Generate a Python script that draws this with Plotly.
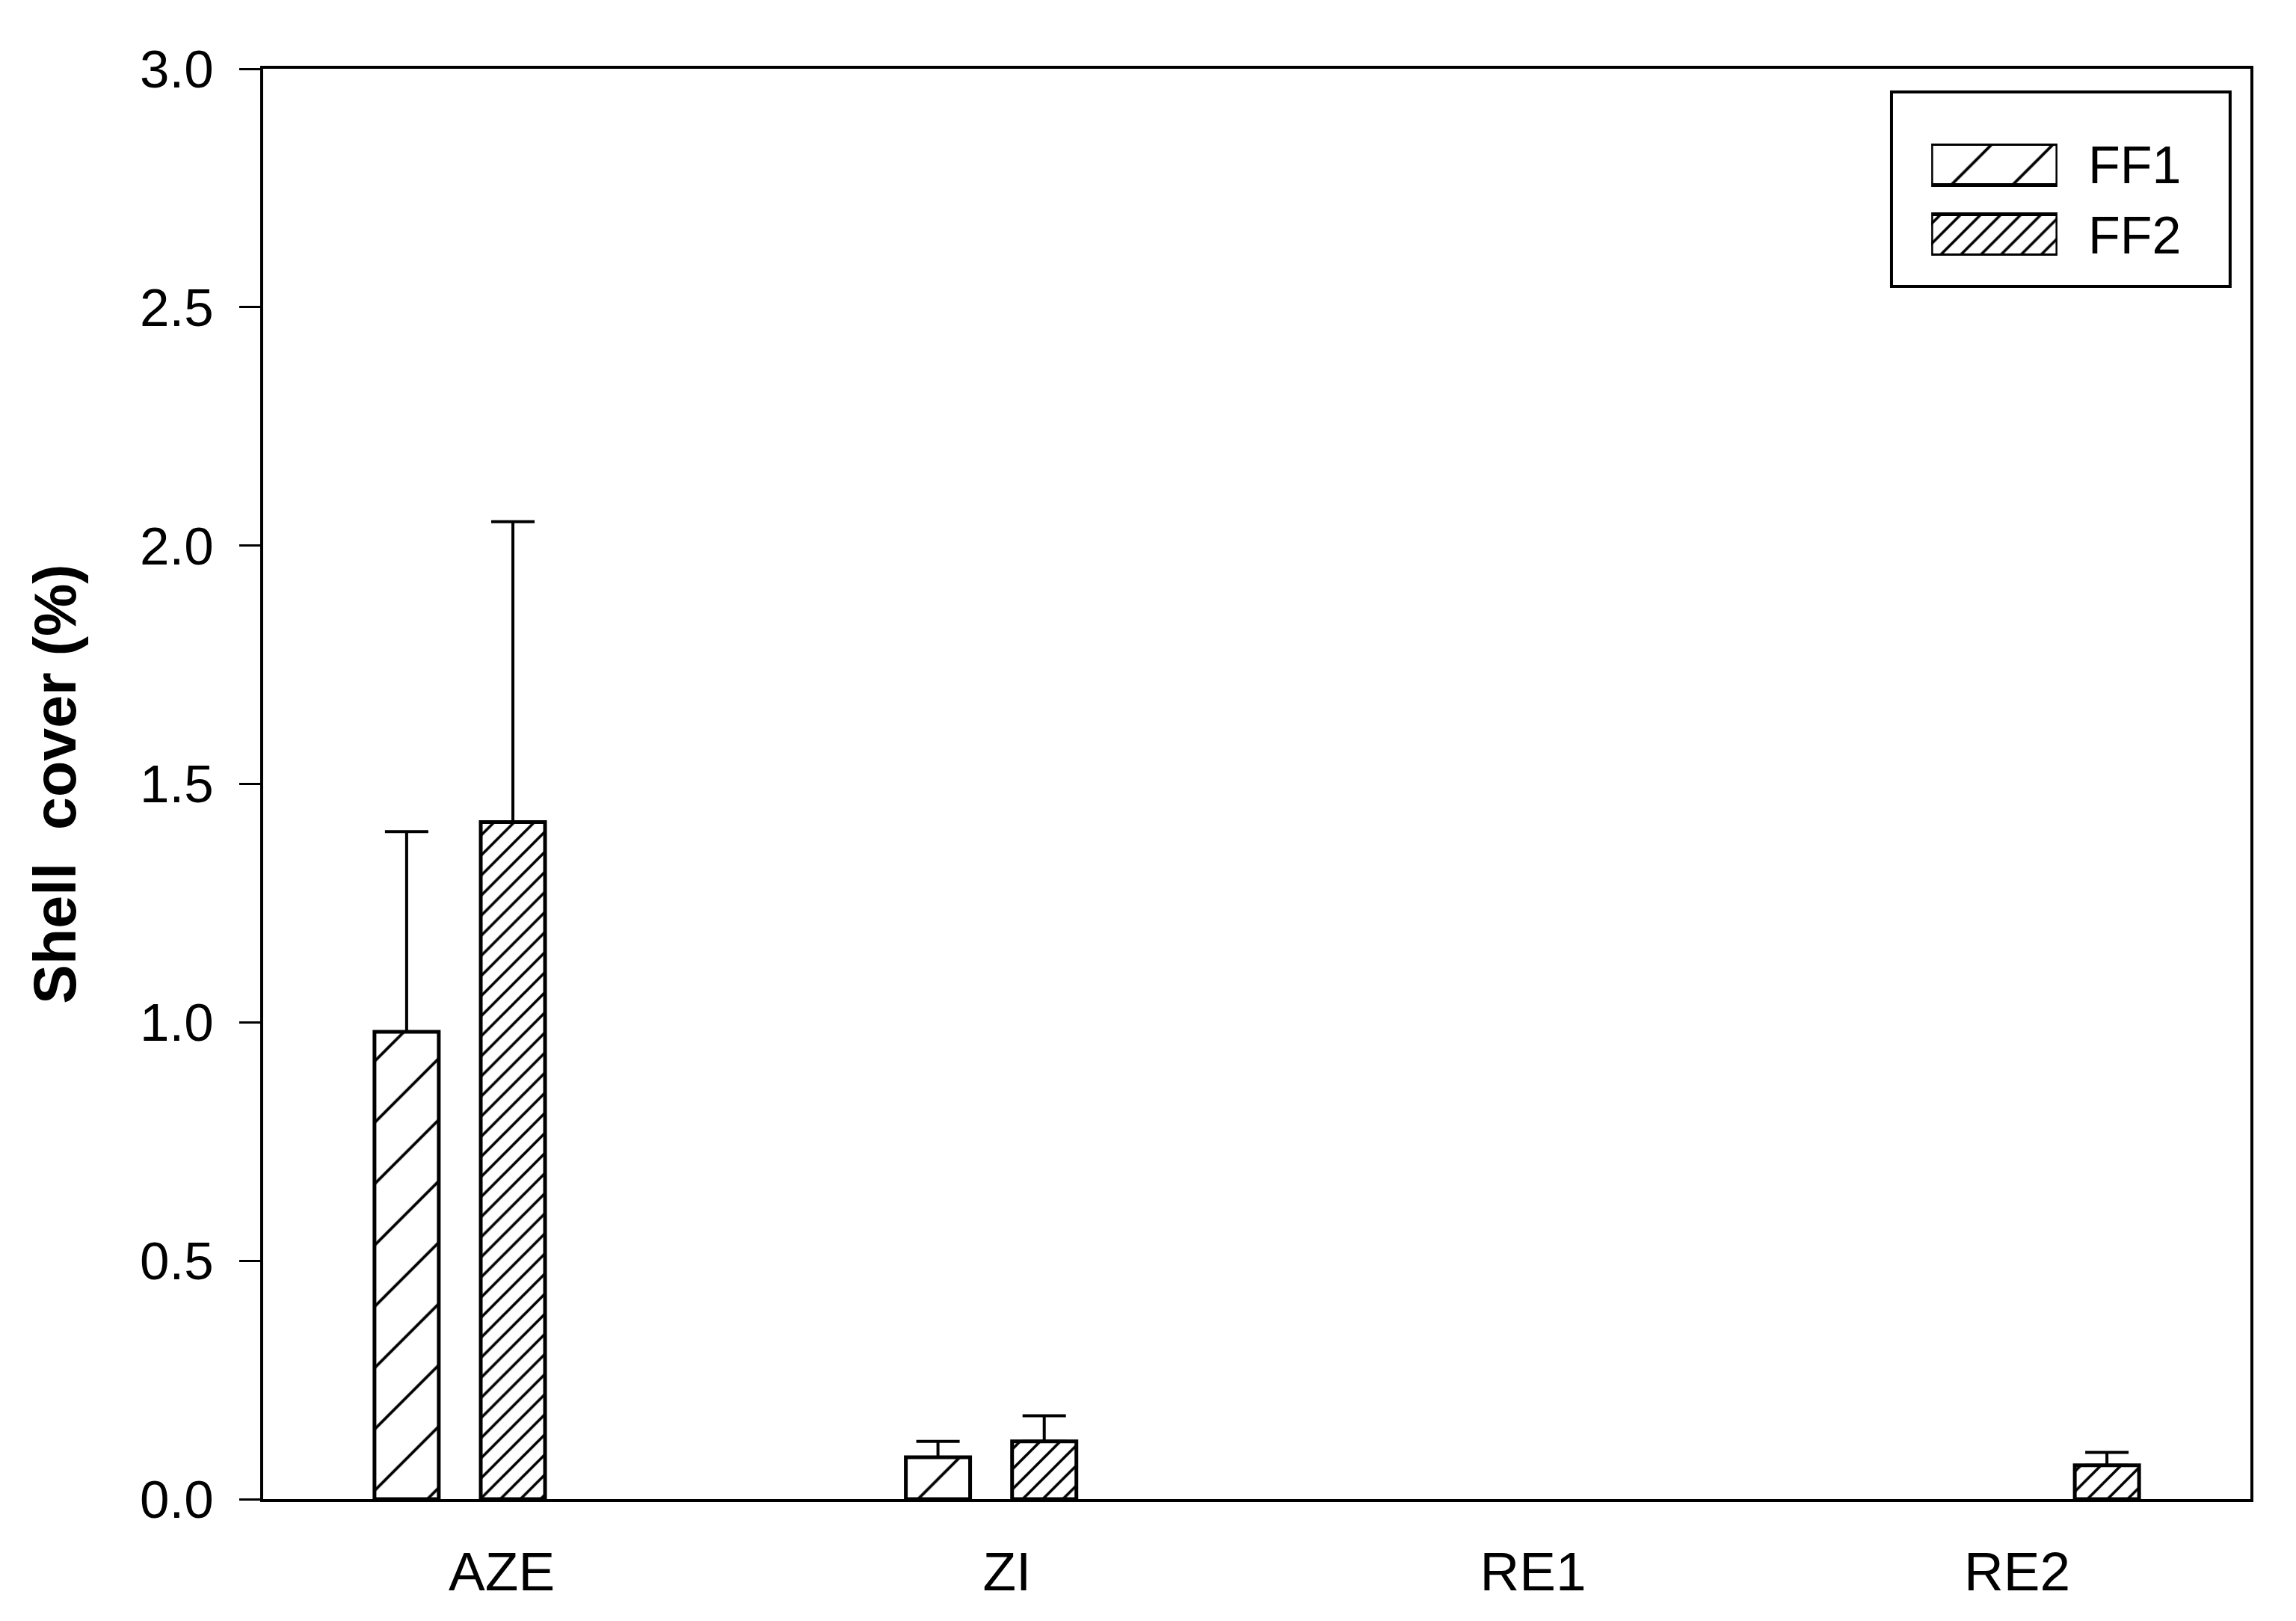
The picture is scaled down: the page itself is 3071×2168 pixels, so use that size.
import plotly.graph_objects as go

# Sites on the x axis.
sites = ["AZE", "ZI", "RE1", "RE2"]

# Series names, mean shell cover (%) and upper error (%).
series = ["FF1", "FF2"]
ff1_mean = [0.98, 0.088, 0.0, 0.0]
ff1_err = [0.42, 0.033, None, None]
ff2_mean = [1.42, 0.121, 0.0, 0.071]
ff2_err = [0.63, 0.054, None, 0.027]

y_ticks = [0.0, 0.5, 1.0, 1.5, 2.0, 2.5, 3.0]

FONT = "Liberation Sans, Arial, sans-serif"
idx = list(range(len(sites)))

bar_w = 0.121
# Hatch style per series: (pattern size, solidity, group offset).
style = {
    "FF1": dict(size=58, solidity=0.065, shift=-0.10),
    "FF2": dict(size=19, solidity=0.19, shift=0.10),
}


def hatch(name):
    st = style[name]
    return dict(shape="/", size=st["size"], solidity=st["solidity"],
                fgcolor="black", fgopacity=1, bgcolor="white", fillmode="overlay")


fig = go.Figure()

for name, mean, err in [("FF1", ff1_mean, ff1_err), ("FF2", ff2_mean, ff2_err)]:
    st = style[name]
    # Zero cover draws no bar and no error bar.
    y = [v if v > 0 else None for v in mean]
    fig.add_trace(go.Bar(
        x=idx, y=y, name=name, showlegend=False,
        width=bar_w, offset=st["shift"] - bar_w / 2,
        marker=dict(color="white", line=dict(color="black", width=5), pattern=hatch(name)),
        error_y=dict(type="data", array=err, arrayminus=[0] * len(err), symmetric=False,
                     color="black", thickness=4, width=29),
    ))

# Legend key drawn as small hatched bars on their own axes.
for name in series:
    fig.add_trace(go.Bar(
        x=[1], y=[name], orientation="h", base=0, width=0.585,
        xaxis="x2", yaxis="y2", showlegend=False, hoverinfo="skip",
        marker=dict(color="white", line=dict(color="black", width=5), pattern=hatch(name)),
    ))

label_shift = [0.079, 0.03, 0.02, -0.069]

fig.update_layout(
    width=3071, height=2168,
    margin=dict(l=352, r=61, t=92, b=163),
    plot_bgcolor="white", paper_bgcolor="white",
    barmode="overlay",
    font=dict(family=FONT, size=72, color="black"),
    xaxis=dict(
        range=[-0.37, 3.37],
        tickvals=[i + s for i, s in zip(idx, label_shift)],
        ticktext=sites,
        ticks="outside", ticklen=30, tickcolor="rgba(0,0,0,0)",
        showline=True, linecolor="black", linewidth=4, mirror=True,
        showgrid=False, zeroline=False,
        tickfont=dict(size=73),
    ),
    yaxis=dict(
        range=[0, 3],
        tickvals=y_ticks,
        tickformat=".1f",
        ticks="outside", ticklen=28, tickwidth=3, tickcolor="black",
        ticklabelstandoff=20,
        showline=True, linecolor="black", linewidth=4, mirror=True,
        showgrid=False, zeroline=False,
        tickfont=dict(size=71),
        title=dict(text="<b>Shell  cover (%)</b>", font=dict(size=79), standoff=60),
    ),
    xaxis2=dict(
        domain=[0.8394, 0.9029], anchor="y2", range=[0, 1],
        visible=False, fixedrange=True,
    ),
    yaxis2=dict(
        domain=[0.8693, 0.9477], anchor="x2",
        type="category", categoryorder="array", categoryarray=series,
        range=[1.298, -0.298],
        side="right", showline=False, showgrid=False, zeroline=False,
        ticks="outside", ticklen=26, tickcolor="rgba(0,0,0,0)",
        tickfont=dict(size=70),
    ),
    shapes=[dict(
        type="rect", xref="paper", yref="paper",
        x0=0.8194, x1=0.9898, y0=0.8479, y1=0.9838,
        line=dict(color="black", width=4), fillcolor="rgba(0,0,0,0)",
    )],
)

fig.write_html("out.html", config={"displayModeBar": False},
               post_script="document.body.style.margin='0';")
